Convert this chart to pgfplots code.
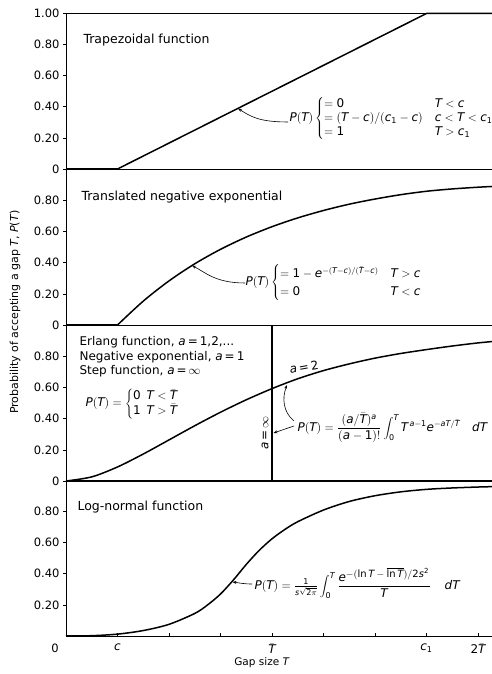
\documentclass[border=0pt]{standalone}
\usepackage{pgfplots}
\pgfplotsset{compat=1.18}
\usepackage{fontspec}
\setmainfont{DejaVu Sans}
\usetikzlibrary{arrows.meta}
\newcommand{\mi}[1]{\mathit{#1}}
\newcommand{\md}[1]{\mathrm{#1}}
\newcommand{\Tb}{\bar{\mathit{T}}}
\begin{document}
\begin{tikzpicture}[x=1pt,y=1pt]
\pgfplotsset{
  panel/.style={
    scale only axis, width=430pt, height=155.5pt,
    xmin=0, xmax=8.35, ymin=0, ymax=1,
    clip=false,
    axis line style={line width=0.7pt},
    ytick={0,0.2,0.4,0.6,0.8},
    yticklabels={0,0.20,0.40,0.60,0.80},
    ytick align=outside, major tick length=3pt,
    ytick pos=left, xtick pos=bottom,
    tick style={line width=0.6pt, black},
    tick label style={font=\fontsize{11.5}{13}\selectfont},
    xtick=\empty,
  },
  curve/.style={black, line width=1.5pt, mark=none},
}
% Panel 1: trapezoidal
\begin{axis}[panel, at={(66pt,505pt)}, anchor=south west,
  ytick={0,0.2,0.4,0.6,0.8,1}, yticklabels={0,0.20,0.40,0.60,0.80,1.00}]
\addplot[curve] coordinates {(0,0) (1,0) (7,1) (8.35,1)};
\end{axis}
% Panel 2: translated negative exponential
\begin{axis}[panel, at={(66pt,349pt)}, anchor=south west]
\addplot[curve] coordinates {(0,0) (1,0)};
\addplot[curve, smooth] coordinates {(1,0) (1.5,0.1535) (2,0.2835) (2.5,0.3935) (3,0.4866) (3.5,0.5654) (4,0.6321) (4.5,0.6886) (5,0.7364) (5.5,0.7769) (6,0.8100) (6.5,0.8380) (7,0.8600) (7.5,0.8750) (8,0.8860) (8.35,0.8920)};
\end{axis}
% Panel 3: Erlang / step
\begin{axis}[panel, at={(66pt,193pt)}, anchor=south west]
\addplot[curve] coordinates {(0,0) (4,0) (4,1) (8.35,1)};
\addplot[curve, smooth] coordinates {(0,0) (0.5,0.0265) (1,0.0902) (1.5,0.1734) (2,0.2642) (2.5,0.3554) (3,0.4422) (3.5,0.5221) (4,0.5940) (4.5,0.6574) (5,0.7100) (5.5,0.7530) (6,0.7900) (6.5,0.8200) (7,0.8450) (7.5,0.8680) (8,0.8880) (8.35,0.8990)};
\end{axis}
% Panel 4: log-normal
\begin{axis}[panel, at={(66pt,38pt)}, anchor=south west,
  ytick={0.2,0.4,0.6,0.8}, yticklabels={0.20,0.40,0.60,0.80},
  xtick={1,2,3,4,5,6,7,8}, xticklabels={$\mi{c}$,,,$\Tb$,,,$\mi{c}_{\md{1}}$,$\md{2}\Tb$},
  xtick align=inside,
  xticklabel style={font=\fontsize{12}{14}\selectfont, yshift=-4pt}]
\addplot[curve, smooth] coordinates {(0,0) (0.5,0.002) (1,0.012) (1.5,0.035) (2,0.075) (2.5,0.145) (2.75,0.2) (3,0.27) (3.25,0.36) (3.5,0.46) (3.75,0.55) (4,0.625) (4.25,0.685) (4.5,0.735) (5,0.81) (5.5,0.865) (6,0.902) (6.5,0.927) (7,0.943) (7.5,0.952) (8,0.958) (8.35,0.961)};
\end{axis}

% Titles
\node[anchor=west, font=\fontsize{12.5}{14}\selectfont] at (80,634) {Trapezoidal function};
\node[anchor=west, font=\fontsize{12.5}{14}\selectfont] at (78,477) {Translated negative exponential};
\node[anchor=west, font=\fontsize{12}{14.5}\selectfont, align=left] at (76,317) {Erlang function, $\mi{a}$\,=\,1,2,...\\Negative exponential, $\mi{a}$\,=\,1\\Step function, $\mi{a}$\,=\,$\infty$};
\node[anchor=west, font=\fontsize{12.5}{14}\selectfont] at (74,167) {Log-normal function};

% Panel 1 formula
\node[anchor=west, font=\fontsize{12}{14}\selectfont] at (286,555) {$\mi{P}(\mi{T})\left\{\begin{array}{@{}l@{\hspace{12pt}}l@{}} =\md{0} & \mi{T}<\mi{c}\\ =(\mi{T}-\mi{c})/(\mi{c}_{\md{1}}-\mi{c}) & \mi{c}<\mi{T}<\mi{c}_{\md{1}}\\ =\md{1} & \mi{T}>\mi{c}_{\md{1}}\end{array}\right.$};
\draw[line width=0.6pt, -{Stealth[length=4pt,width=3pt]}] (288,552) .. controls (258,552) and (250,558) .. (238,565.5);

% Panel 2 formula
\node[anchor=west, font=\fontsize{12}{14}\selectfont] at (242,391) {\renewcommand{\arraystretch}{1.25}$\mi{P}(\mi{T})\left\{\begin{array}{@{}l@{\hspace{12pt}}l@{}} =\md{1}-\mi{e}^{-(\mi{T}-\mi{c})/(\Tb-\mi{c})} & \mi{T}>\mi{c}\\ =\md{0} & \mi{T}<\mi{c}\end{array}\right.$};
\draw[line width=0.6pt, -{Stealth[length=4pt,width=3pt]}] (245,391) .. controls (215,391) and (205,402) .. (192,408.4);

% Panel 3 formulas
\node[anchor=west, font=\fontsize{12}{14}\selectfont] at (82,270) {$\mi{P}(\mi{T})=\left\{\begin{array}{@{}l@{\hspace{6pt}}l@{}} \md{0} & \mi{T}<\Tb\\ \md{1} & \mi{T}>\Tb\end{array}\right.$};
\node[rotate=10, font=\fontsize{12}{13}\selectfont] at (304,307) {$\mi{a}$\,=\,2};
\node[rotate=90, font=\fontsize{12}{13}\selectfont] at (265,241) {$\mi{a}$\,=\,$\infty$};
\node[anchor=west, font=\fontsize{12}{14}\selectfont] at (294,246) {$\displaystyle\mi{P}(\mi{T})=\frac{(\mi{a}/\Tb)^{\mi{a}}}{(\mi{a}-\md{1})!}\int_{\md{0}}^{\mi{T}}\mi{T}^{\,\mi{a}-\md{1}}\mi{e}^{-\mi{a}\mi{T}/\Tb}\hspace{12pt}\mi{dT}$};
\draw[line width=0.6pt, -{Stealth[length=4pt,width=3pt]}] (294,253) .. controls (283,262) and (282,276) .. (287,289);
\draw[line width=0.6pt, -{Stealth[length=4pt,width=3pt]}] (294,248) -- (273.5,241);

% Panel 4 formula
\node[anchor=west, font=\fontsize{12}{14}\selectfont] at (251,91) {$\mi{P}(\mi{T})=\frac{\md{1}}{\mi{s}\sqrt{\md{2}\pi}}\displaystyle\int_{\md{0}}^{\mi{T}}\frac{\mi{e}^{\mbox{\fontsize{10}{11}\selectfont$-(\ln\mi{T}-\overline{\ln\mi{T}})/\md{2}\mi{s}^{\md{2}}$}}}{\mi{T}}\hspace{14pt}\mi{dT}$};
\draw[line width=0.6pt, -{Stealth[length=4pt,width=3pt]}] (252,90) .. controls (244,90) and (240,91) .. (232.5,92);

% origin label, axis labels
\node[font=\fontsize{11.5}{13}\selectfont] at (55,26) {0};
\node[font=\fontsize{10.5}{12}\selectfont] at (262,11) {Gap size \textit{T}};
\node[rotate=90, font=\fontsize{11}{13}\selectfont] at (15,362) {Probability of accepting a gap \textit{T}, \textit{P}(\textit{T})};

\pgfresetboundingbox
\path (0,0) rectangle (492,674);
\end{tikzpicture}
\end{document}
